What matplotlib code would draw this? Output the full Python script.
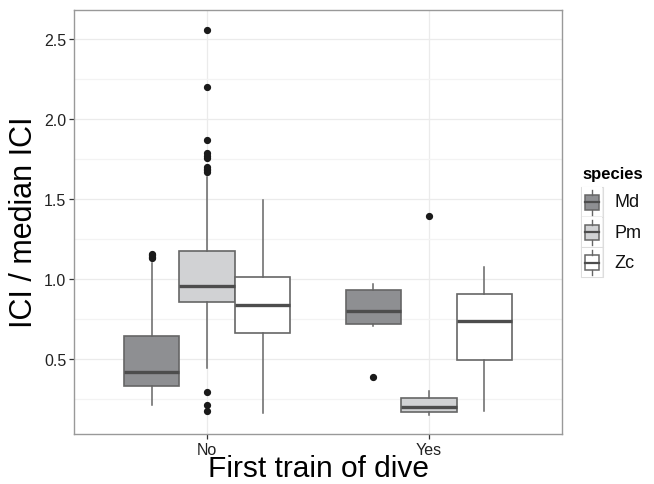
import matplotlib
matplotlib.use("Agg")
import matplotlib.pyplot as plt
from matplotlib.patches import Rectangle

plt.rcParams['font.family'] = ['Liberation Sans', 'DejaVu Sans']

# data (box stats per species, per group)
groups = ["No", "Yes"]
species = ["Md", "Pm", "Zc"]
fills = ["#8e8f92", "#d1d2d4", "#ffffff"]

md_q1 = [0.333, 0.717]
md_med = [0.421, 0.798]
md_q3 = [0.642, 0.931]
md_lo = [0.214, 0.706]
md_hi = [1.104, 0.971]
md_out = [[1.13, 1.14, 1.15, 1.16], [0.389]]

pm_q1 = [0.854, 0.171]
pm_med = [0.960, 0.198]
pm_q3 = [1.177, 0.256]
pm_lo = [0.442, 0.152]
pm_hi = [1.636, 0.298]
pm_out = [[2.56, 2.20, 1.87, 1.79, 1.77, 1.76, 1.70, 1.69, 1.68, 1.67, 0.292, 0.212, 0.173],
          [1.396]]

zc_q1 = [0.662, 0.496]
zc_med = [0.835, 0.736]
zc_q3 = [1.014, 0.910]
zc_lo = [0.160, 0.173]
zc_hi = [1.496, 1.073]
zc_out = [[], []]

y_ticks = [0.5, 1.0, 1.5, 2.0, 2.5]

series = [
    (md_q1, md_med, md_q3, md_lo, md_hi, md_out),
    (pm_q1, pm_med, pm_q3, pm_lo, pm_hi, pm_out),
    (zc_q1, zc_med, zc_q3, zc_lo, zc_hi, zc_out),
]

W, H = 654, 485
fig = plt.figure(figsize=(W / 100, H / 100), dpi=100)
ax = fig.add_axes([74 / W, 1 - 435 / H, (562 - 74) / W, (435 - 10.5) / H])

edge = "#666666"
for i, (q1, med, q3, lo, hi, out) in enumerate(series):
    stats = []
    for g in range(len(groups)):
        stats.append(dict(q1=q1[g], med=med[g], q3=q3[g], whislo=lo[g], whishi=hi[g], fliers=out[g]))
    pos = [g + 1 + (i - 1) * 0.25 for g in range(len(groups))]
    ax.bxp(stats, positions=pos, widths=0.25, patch_artist=True, showcaps=False,
           boxprops=dict(facecolor=fills[i], edgecolor=edge, linewidth=1.2),
           medianprops=dict(color="#4d4d4d", linewidth=2.4, solid_capstyle='butt'),
           whiskerprops=dict(color=edge, linewidth=1.1),
           flierprops=dict(marker='o', markerfacecolor='#1a1a1a', markeredgecolor='#1a1a1a',
                           markersize=4.2, linestyle='none'),
           zorder=3)

ax.set_xlim(0.4, 2.6)
ax.set_ylim(0.031, 2.687)
ax.set_xticks([1, 2])
ax.set_xticklabels(groups)
ax.set_yticks(y_ticks)
ax.set_yticklabels(["%.1f" % t for t in y_ticks])
ax.set_yticks([0.25, 0.75, 1.25, 1.75, 2.25], minor=True)
ax.grid(True, which='major', color='#ebebeb', linewidth=0.9, zorder=0)
ax.grid(True, which='minor', axis='y', color='#f3f3f3', linewidth=0.9, zorder=0)
ax.set_axisbelow(True)
ax.tick_params(axis='both', which='major', length=3.5, width=0.9, color='#333333',
               labelsize=11.5, labelcolor='#222222', pad=2)
ax.tick_params(axis='y', which='minor', length=0)
for s in ax.spines.values():
    s.set_color('#999999')
    s.set_linewidth(1.0)

ax.set_xlabel("First train of dive", fontsize=21.5, labelpad=-2)
ax.set_ylabel("ICI / median ICI", fontsize=22, labelpad=4)

# legend drawn in pixel coordinates
lg = fig.add_axes([0, 0, 1, 1], zorder=5)
lg.set_xlim(0, W)
lg.set_ylim(H, 0)
lg.axis('off')
lg.text(582, 179, "species", fontsize=12, fontweight='bold', va='baseline', ha='left')
for i, sp in enumerate(species):
    top = 187.5 + i * 30.3
    lg.add_patch(Rectangle((581, top), 21.5, 30.3, facecolor='#f2f2f2', edgecolor='#dddddd', lw=0.8))
    lg.add_patch(Rectangle((581.5, top + 0.5), 20.5, 29.3, facecolor='white', edgecolor='none'))
    cx = 591.8
    lg.plot([cx, cx], [top + 3, top + 8], color=edge, lw=1.0)
    lg.plot([cx, cx], [top + 23, top + 28], color=edge, lw=1.0)
    lg.add_patch(Rectangle((584.5, top + 8), 14.6, 15, facecolor=fills[i], edgecolor=edge, lw=1.1))
    lg.plot([584.5, 599.1], [top + 15.5, top + 15.5], color='#4d4d4d', lw=1.6)
    lg.text(614, top + 15.5, sp, fontsize=13, va='center', ha='left', color='#111111')

fig.savefig("out.png", dpi=100, facecolor='white')
